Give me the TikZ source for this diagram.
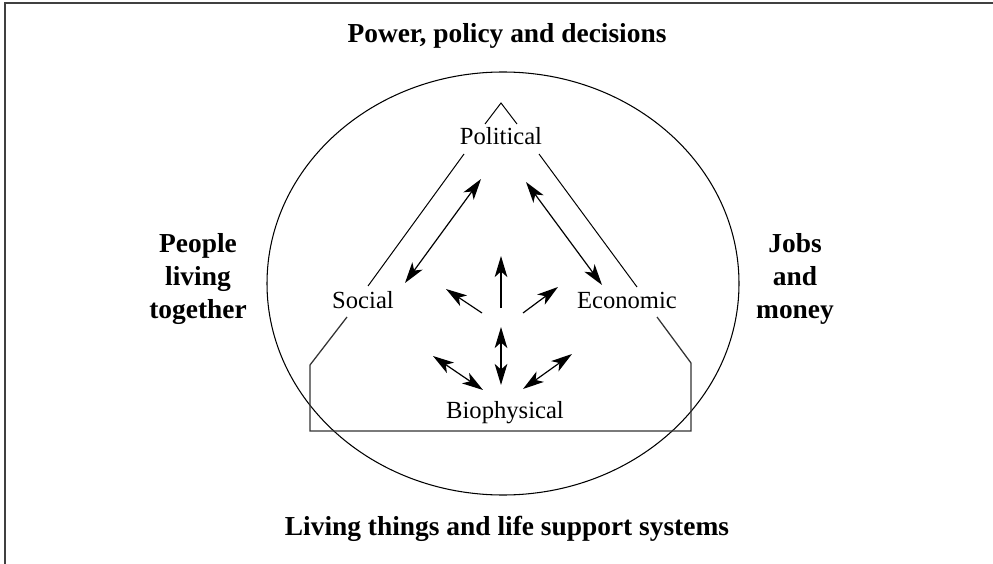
\documentclass[tikz,border=0pt]{standalone}
\usepackage{fontspec}
\setmainfont{Liberation Serif}
\usetikzlibrary{arrows.meta}

\tikzset{
  pillar/.style={font=\fontsize{17.5}{21}\selectfont, inner sep=1pt},
  theme/.style={font=\fontsize{19.5}{23.5}\selectfont\bfseries, align=center, inner sep=1pt},
  link/.style={line width=0.85pt, {Stealth[length=15pt,width=9pt,inset=4pt]}-{Stealth[length=15pt,width=9pt,inset=4pt]}},
  push/.style={line width=0.85pt, -{Stealth[length=15pt,width=9pt,inset=4pt]}},
}

\begin{document}
\begin{tikzpicture}[x=0.025cm, y=-0.025cm]
  \useasboundingbox (0,0) rectangle (993,564);

  % Frame (top and left edges only)
  \draw[line width=1pt, black!75] (5,564) -- (5,3) -- (993,3);

  % Outer ellipse
  \draw[line width=0.75pt] (503,283.5) ellipse [x radius=236, y radius=211.5];

  % Themes around the ellipse
  \node[theme, anchor=base] (power) at (507,43) {Power, policy and decisions};
  \node[theme] (people) at (198,279) {People\\living\\together};
  \node[theme] (jobs) at (795,279) {Jobs\\and\\money};
  \node[theme, anchor=base] (living) at (507,535) {Living things and life support systems};

  % Pillars
  \node[pillar, anchor=base] (pol) at (501,145) {Political};
  \node[pillar, anchor=base] (soc) at (363,308) {Social};
  \node[pillar, anchor=base] (eco) at (627,308) {Economic};
  \node[pillar, anchor=base] (bio) at (505,418) {Biophysical};

  % Outline of the pillars
  \draw[line width=0.7pt] (485,124) -- (501,103) -- (517,124);
  \draw[line width=0.7pt] (368,286) -- (464,154);
  \draw[line width=0.7pt] (539,154) -- (637,287);
  \draw[line width=0.9pt, black!80] (347,317) -- (310,365) -- (310,431) -- (691,431) -- (691,363) -- (657,317);

  % Arrow ends
  \coordinate (socA) at (405,283);
  \coordinate (polA) at (481,179);
  \coordinate (polB) at (526,182);
  \coordinate (ecoB) at (602,285);
  \coordinate (midL) at (482,313);
  \coordinate (midC) at (501,308);
  \coordinate (midR) at (523,313);
  \coordinate (upL) at (446,289);
  \coordinate (upC) at (501,256);
  \coordinate (upR) at (558,287);
  \coordinate (lowL) at (433,356);
  \coordinate (lowC) at (501,327);
  \coordinate (lowR) at (572,354);
  \coordinate (bioL) at (483,390);
  \coordinate (bioC) at (501,385);
  \coordinate (bioR) at (523,389);

  % Links between the pillars
  \draw[link] (socA) -- (polA);
  \draw[link] (polB) -- (ecoB);

  % Upward pushes
  \draw[push] (midL) -- (upL);
  \draw[push] (midC) -- (upC);
  \draw[push] (midR) -- (upR);

  % Links down to the biophysical base
  \draw[link] (lowL) -- (bioL);
  \draw[link] (lowC) -- (bioC);
  \draw[link] (lowR) -- (bioR);

\end{tikzpicture}
\end{document}
